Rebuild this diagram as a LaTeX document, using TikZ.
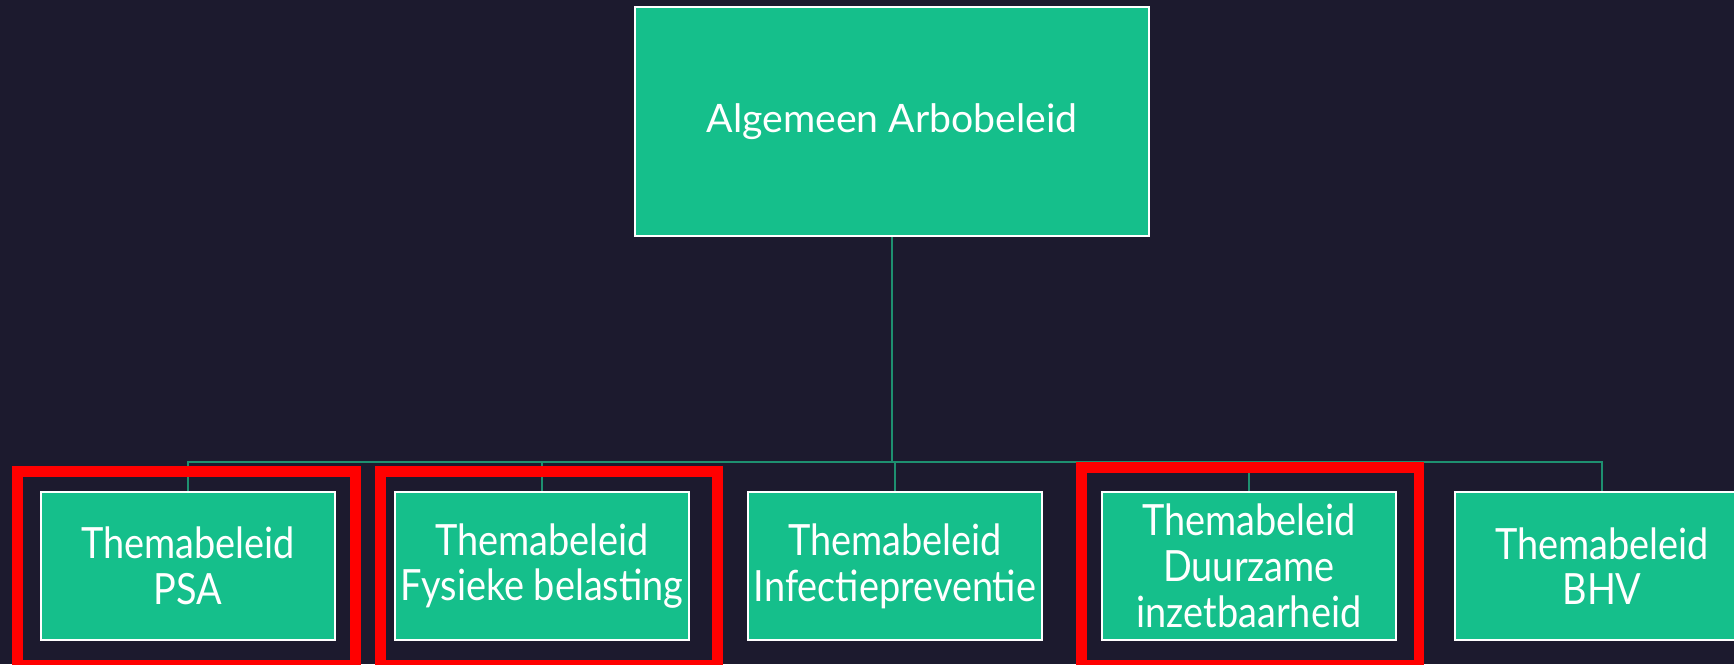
\documentclass[tikz,border=0pt]{standalone}
\usepackage{fontspec}
\setmainfont{Lato}
\newfontfamily\themafont[FakeStretch=0.88]{Lato}
\usepackage{tikz}
\definecolor{bgnavy}{HTML}{1C1A2E}
\definecolor{boxgreen}{HTML}{15BF8B}
\definecolor{linegreen}{HTML}{1E9070}
\definecolor{markred}{HTML}{FF0000}

\begin{document}
\begin{tikzpicture}[
  topbox/.style={draw=white,line width=1.2pt,fill=boxgreen,text=white,minimum width=10.27cm,minimum height=4.58cm,font=\fontsize{22.3}{27}\selectfont},
  themabox/.style={draw=white,line width=1.2pt,fill=boxgreen,text=white,minimum width=5.88cm,minimum height=2.96cm,align=center,inner sep=0pt,font=\themafont\fontsize{24.5}{26}\selectfont},
  tak/.style={draw=linegreen,line width=1.3pt},
  markframe/.style={draw=markred,line width=6.2pt}
]
\fill[bgnavy] (0,0) rectangle (34.68,13.28);
\useasboundingbox (0,0) rectangle (34.68,13.28);

\node[topbox] (arbo) at (17.84,10.85) {Algemeen Arbobeleid};
\node[themabox] (psa) at (3.76,1.96) {Themabeleid\\PSA};
\node[themabox] (fysiek) at (10.84,1.96) {Themabeleid\\Fysieke belasting};
\node[themabox] (infectie) at (17.90,1.96) {Themabeleid\\Infectiepreventie};
\node[themabox] (duurzaam) at (24.98,1.96) {Themabeleid\\Duurzame\\inzetbaarheid};
\node[themabox] (bhv) at (32.04,1.96) {Themabeleid\\BHV};

\coordinate (bus) at (17.84,4.04);
\draw[tak] (arbo.south) -- (bus);
\draw[tak] (psa.north) |- (bus) -| (bhv.north);
\foreach \n in {fysiek,infectie,duurzaam}
  \draw[tak] (\n.north) -- (\n.north |- bus);

\draw[markframe] (0.35,-0.03) rectangle (7.11,3.85);
\draw[markframe] (7.61,-0.03) rectangle (14.35,3.85);
\draw[markframe] (21.63,-0.03) rectangle (28.38,3.93);
\end{tikzpicture}
\end{document}
